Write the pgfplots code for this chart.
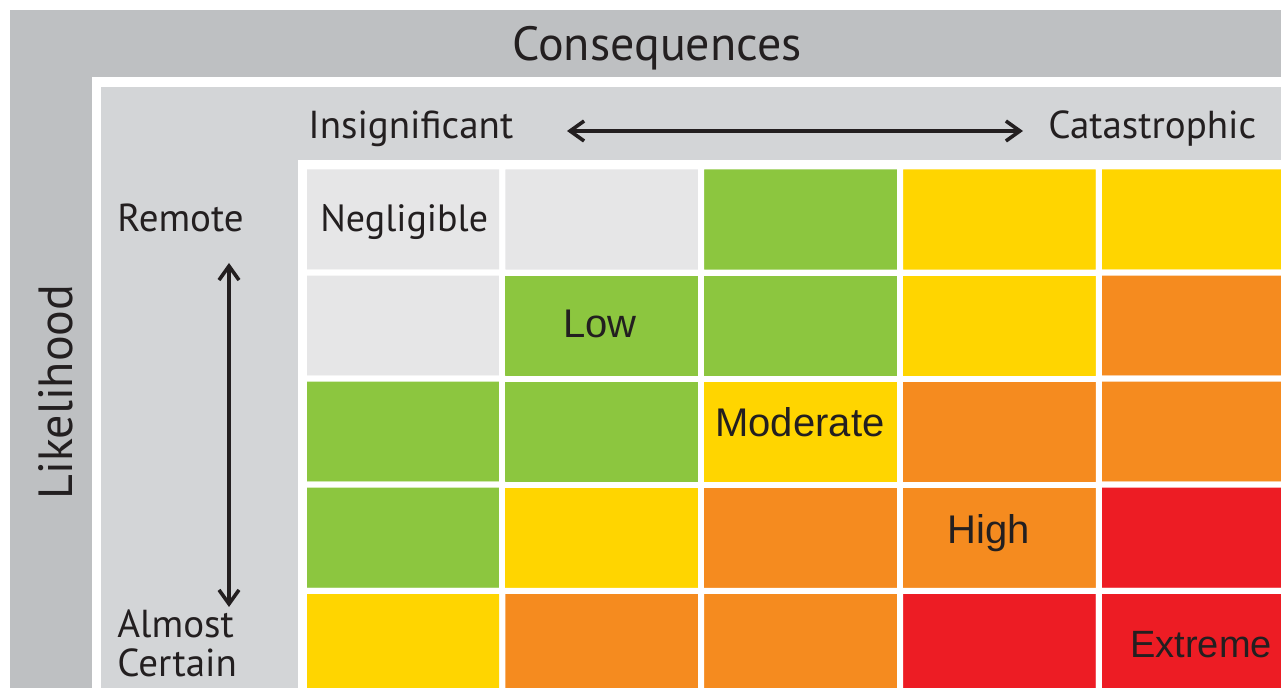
\documentclass[border=0pt]{standalone}
\usepackage{pgfplots}
\pgfplotsset{compat=1.18}
\usetikzlibrary{arrows.meta}
\usepackage{fontspec}
\setmainfont{PT Sans}
\newfontfamily\arialf{Liberation Sans}
\newcommand\fs[1]{\fontsize{#1}{#1}\selectfont}
\definecolor{outergray}{RGB}{190,192,194}
\definecolor{innergray}{RGB}{211,213,215}
\definecolor{txt}{RGB}{35,31,32}
\begin{document}
\begin{tikzpicture}
\begin{axis}[
  width=640.5pt, height=344pt, scale only axis,
  xmin=0, xmax=1281, ymin=0, ymax=688, y dir=reverse,
  axis lines=none, clip=true,
  colormap={risk}{rgb255=(230,230,231) rgb255=(140,198,63) rgb255=(255,213,0) rgb255=(245,139,31) rgb255=(237,28,36)},
  colormap access=direct,
]
\fill[white] (axis cs:0,0) rectangle (axis cs:1281,688);
\fill[outergray] (axis cs:10,10) rectangle (axis cs:1281,688);
\fill[white] (axis cs:92,77) rectangle (axis cs:1281,688);
\fill[innergray] (axis cs:101,87) rectangle (axis cs:1281,688);
\fill[white] (axis cs:298,160) rectangle (axis cs:1281,688);

\addplot[matrix plot, shader=faceted, faceted color=white, line width=3pt,
  mesh/cols=5, point meta=explicit] table[meta=c] {
x y c
403    219.5 0
601.5  219.5 0
800.5  219.5 1
999.5  219.5 2
1198   219.5 2
403    325.6 0
601.5  325.6 1
800.5  325.6 1
999.5  325.6 2
1198   325.6 3
403    431.7 1
601.5  431.7 1
800.5  431.7 2
999.5  431.7 3
1198   431.7 3
403    537.8 1
601.5  537.8 2
800.5  537.8 3
999.5  537.8 3
1198   537.8 4
403    643.9 2
601.5  643.9 3
800.5  643.9 3
999.5  643.9 4
1198   643.9 4
};

\addplot[txt, line width=1.8pt, {Straight Barb[length=7pt,width=10pt]}-{Straight Barb[length=7pt,width=10pt]}] coordinates {(567,131) (1023,131)};
\addplot[txt, line width=1.8pt, {Straight Barb[length=7pt,width=10pt]}-{Straight Barb[length=7pt,width=10pt]}] coordinates {(229,263) (229,607)};

\node[txt, anchor=base, inner sep=0pt, font=\fs{24pt}] at (axis cs:657,61) {Consequences};
\node[txt, anchor=base, inner sep=0pt, rotate=90, font=\fs{24pt}] at (axis cs:72,392) {Likelihood};
\node[txt, anchor=base west, inner sep=0pt, font=\fs{19.5pt}] at (axis cs:308,139) {Insignificant};
\node[txt, anchor=base west, inner sep=0pt, font=\fs{19.5pt}] at (axis cs:1048,139) {Catastrophic};
\node[txt, anchor=base west, inner sep=0pt, font=\fs{19.5pt}] at (axis cs:117,232) {Remote};
\node[txt, anchor=base west, inner sep=0pt, font=\fs{19pt}] at (axis cs:320,232) {Negligible};
\node[txt, anchor=base west, inner sep=0pt, font=\fs{19.5pt}] at (axis cs:117,638) {Almost};
\node[txt, anchor=base west, inner sep=0pt, font=\fs{19.5pt}] at (axis cs:117,677) {Certain};
\node[txt, anchor=base west, inner sep=0pt, font=\arialf\fs{20pt}] at (axis cs:563,338) {Low};
\node[txt, anchor=base west, inner sep=0pt, font=\arialf\fs{20pt}] at (axis cs:715,437) {Moderate};
\node[txt, anchor=base west, inner sep=0pt, font=\arialf\fs{20pt}] at (axis cs:947,544) {High};
\node[txt, anchor=base west, inner sep=0pt, font=\arialf\fs{19pt}] at (axis cs:1130,658) {Extreme};
\end{axis}
\end{tikzpicture}
\end{document}
